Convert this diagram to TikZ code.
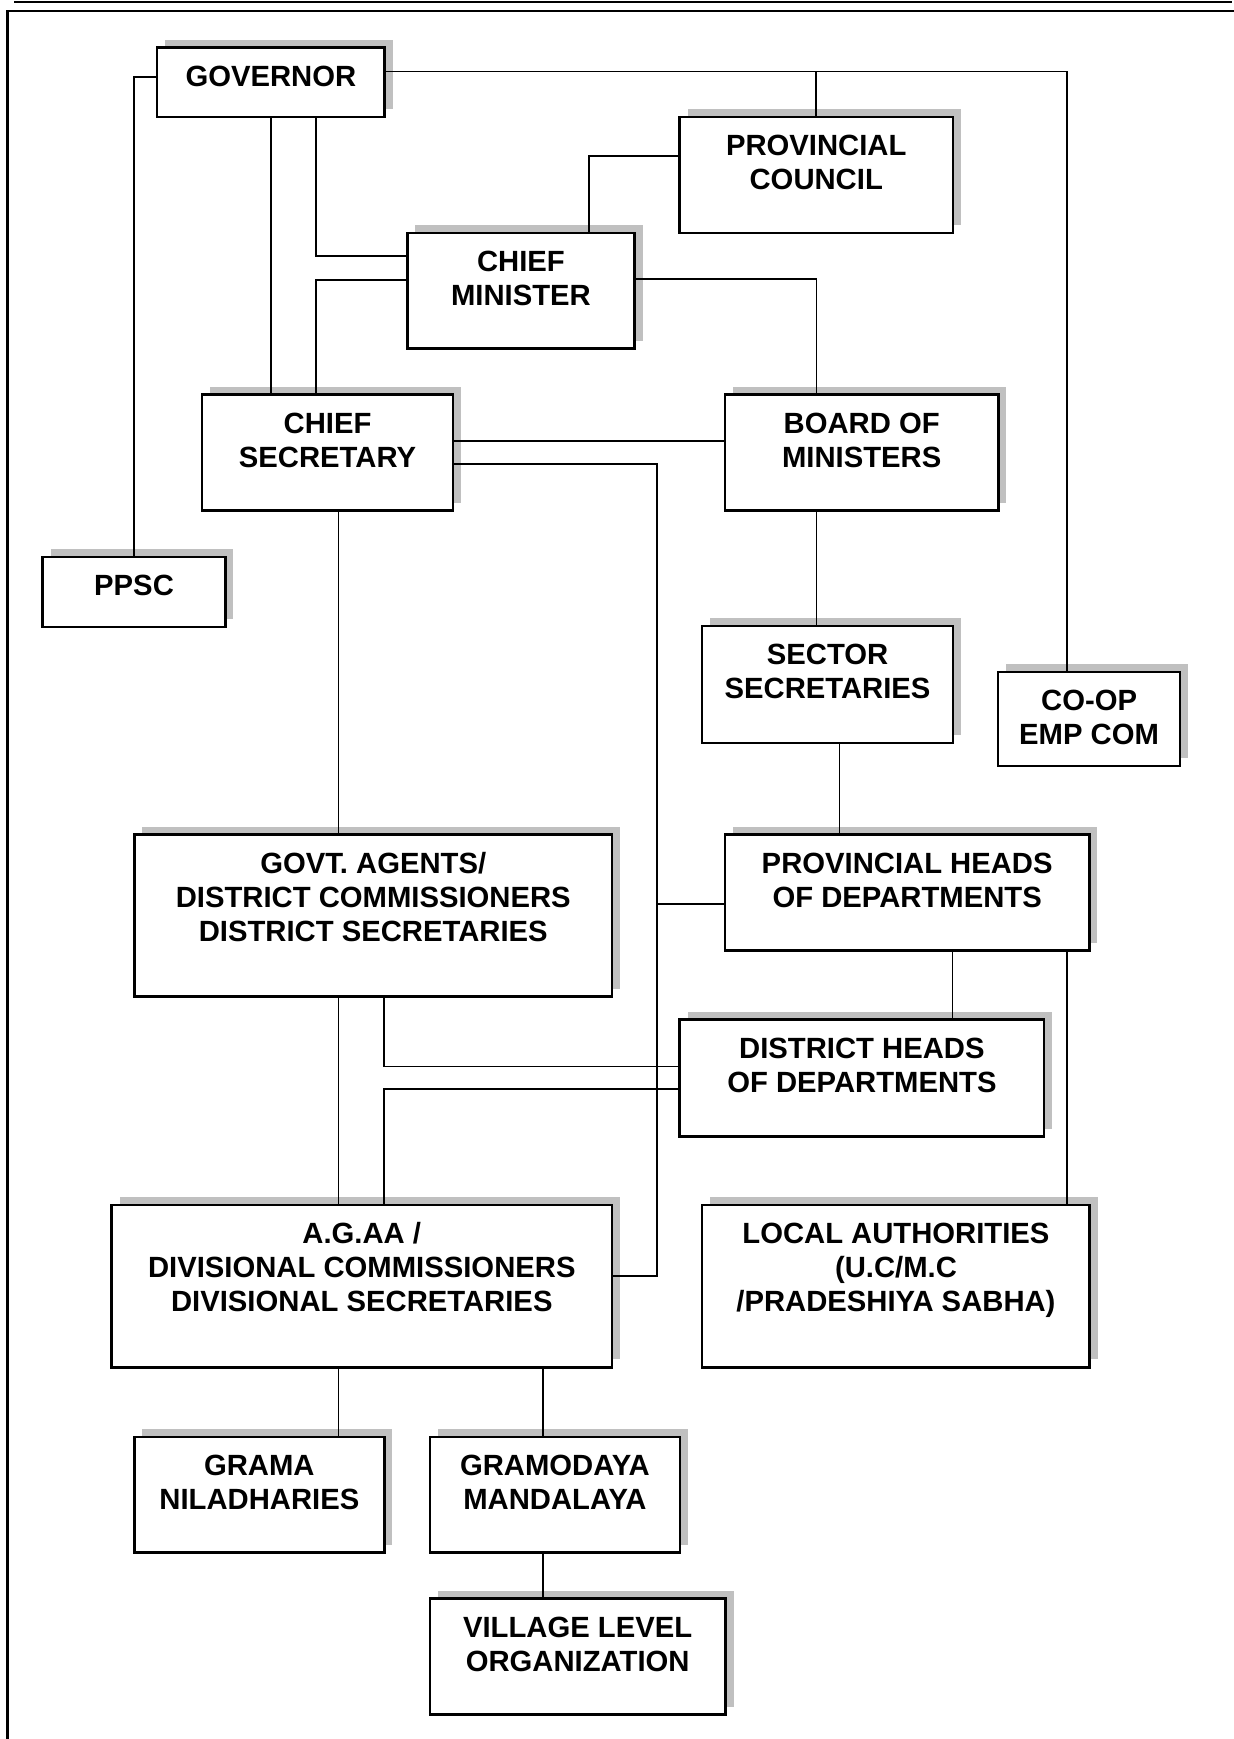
\documentclass[tikz,border=0pt]{standalone}
\usepackage{fontspec}
\setmainfont{Liberation Sans}
\usetikzlibrary{shadows}
\newlength\pxu
\setlength\pxu{0.02cm}
\definecolor{shadowgray}{RGB}{192,192,192}
% box label: fixed-size parbox, text hung from the top edge
\newcommand\boxtxt[3]{\parbox[c][#2\pxu][t]{#1\pxu}{\centering\rule{0pt}{38.7\pxu}#3\par}}
\begin{document}
\begin{tikzpicture}[x=0.02cm, y=-0.02cm,
  orgbox/.style={draw, line width=2.5\pxu, fill=white, inner sep=0pt, outer sep=0pt,
    anchor=north west, font=\fontsize{16.65pt}{19.35pt}\selectfont\bfseries,
    drop shadow={shadow xshift=8\pxu, shadow yshift=8\pxu, fill=shadowgray, opacity=1, draw=none}},
  link/.style={line width=1.8\pxu, line join=miter},
  frameline/.style={line width=2.2\pxu}]
\useasboundingbox (0,0) rectangle (1234,1739);

% page rules
\draw[frameline] (14,1.8) -- (1232,1.8);
\draw[frameline] (7.5,1739) -- (7.5,10.7) -- (1234,10.7);

% organisation boxes
\node[orgbox] (gov)  at (157,47.5)    {\boxtxt{227.7}{69.6}{GOVERNOR}};
\node[orgbox] (pc)   at (679.6,117.1) {\boxtxt{273.3}{115.8}{PROVINCIAL\\COUNCIL}};
\node[orgbox] (cm)   at (407.3,232.9) {\boxtxt{227.3}{115.7}{CHIEF\\MINISTER}};
\node[orgbox] (cs)   at (202,394.6)   {\boxtxt{251.1}{116.1}{CHIEF\\SECRETARY}};
\node[orgbox] (bom)  at (725.1,394.6) {\boxtxt{273.2}{116.1}{BOARD OF\\MINISTERS}};
\node[orgbox] (ppsc) at (42.7,557.2)  {\boxtxt{182.7}{69.7}{PPSC}};
\node[orgbox] (ss)   at (702.2,626.1) {\boxtxt{250.7}{116.7}{SECTOR\\SECRETARIES}};
\node[orgbox] (coop) at (998,672)     {\boxtxt{182.2}{93.8}{CO-OP\\EMP COM}};
\node[orgbox] (ga)   at (134.4,834.7) {\boxtxt{477.7}{161.9}{GOVT. AGENTS/\\DISTRICT COMMISSIONERS\\DISTRICT SECRETARIES}};
\node[orgbox] (phd)  at (725.1,834.7) {\boxtxt{364.2}{115.9}{PROVINCIAL HEADS\\OF DEPARTMENTS}};
\node[orgbox] (dhd)  at (679.6,1019.5){\boxtxt{364.6}{117}{DISTRICT HEADS\\OF DEPARTMENTS}};
\node[orgbox] (aga)  at (111.5,1205)  {\boxtxt{500.6}{162.3}{A.G.AA /\\DIVISIONAL COMMISSIONERS\\DIVISIONAL SECRETARIES}};
\node[orgbox] (la)   at (702.2,1205)  {\boxtxt{387.5}{162.3}{LOCAL AUTHORITIES\\(U.C/M.C\\/PRADESHIYA SABHA)}};
\node[orgbox] (gn)   at (134.4,1436.8){\boxtxt{249.9}{115.7}{GRAMA\\NILADHARIES}};
\node[orgbox] (gm)   at (429.8,1436.8){\boxtxt{250.2}{115.7}{GRAMODAYA\\MANDALAYA}};
\node[orgbox] (vlo)  at (429.8,1598.7){\boxtxt{295.7}{115.8}{VILLAGE LEVEL\\ORGANIZATION}};

% attachment points on box edges
\coordinate (govR)  at ([yshift=-23.9\pxu]gov.north east);
\coordinate (govS2) at ([xshift=45.5\pxu]gov.south);
\coordinate (bomS)  at ([xshift=91.4\pxu]bom.south west);
\coordinate (ssS)   at ([xshift=137.2\pxu]ss.south west);
\coordinate (phdS)  at ([xshift=227.4\pxu]phd.south west);
\coordinate (phdS2) at ([xshift=341.6\pxu]phd.south west);
\coordinate (phdL)  at ([yshift=-69.6\pxu]phd.north west);
\coordinate (csS)   at ([xshift=136.5\pxu]cs.south west);
\coordinate (gaS)   at ([xshift=204.1\pxu]ga.south west);
\coordinate (gaS2)  at ([xshift=249.9\pxu]ga.south west);
\coordinate (gmN)   at ([xshift=113.5\pxu]gm.north west);
\coordinate (bus)   at (656.7,1275.6);

% connectors
\draw[link] ([yshift=-29.3\pxu]gov.north west) -| (ppsc.north);
\draw[link] (gov.south) -- (gov.south |- cs.north);
\draw[link] (govS2) |- ([yshift=-23.1\pxu]cm.north west);
\draw[link] ([yshift=-46.7\pxu]cm.north west) -| ([xshift=-11.2\pxu]cs.north);
\draw[link] (govR) -| ([xshift=-22.4\pxu]coop.north);
\draw[link] (pc.north) -- (pc.north |- govR);
\draw[link] ([yshift=-38.6\pxu]pc.north west) -| ([xshift=-45.4\pxu]cm.north east);
\draw[link] ([yshift=-46.4\pxu]cm.north east) -| ([xshift=91.4\pxu]bom.north west);
\draw[link] ([yshift=-46.4\pxu]cs.north east) -- ([yshift=-46.4\pxu]bom.north west);
\draw[link] ([yshift=-69.7\pxu]cs.north east) -| (bus) -- (bus -| aga.north east);
\draw[link] (phdL) -- (phdL -| bus);
\draw[link] (bomS) -- (bomS |- ss.north);
\draw[link] (ssS) -- (ssS |- phd.north);
\draw[link] (phdS) -- (phdS |- dhd.north);
\draw[link] (phdS2) -- (phdS2 |- la.north);
\draw[link] (csS) -- (csS |- ga.north);
\draw[link] (gaS) -- (gaS |- aga.north);
\draw[link] (gaS2) |- ([yshift=-47\pxu]dhd.north west);
\draw[link] ([yshift=-69.7\pxu]dhd.north west) -| (gaS2 |- aga.north);
\draw[link] (gaS |- aga.south) -- (gaS |- gn.north);
\draw[link] (gmN |- aga.south) -- (gmN);
\draw[link] (gmN |- gm.south) -- (gmN |- vlo.north);
\end{tikzpicture}
\end{document}
